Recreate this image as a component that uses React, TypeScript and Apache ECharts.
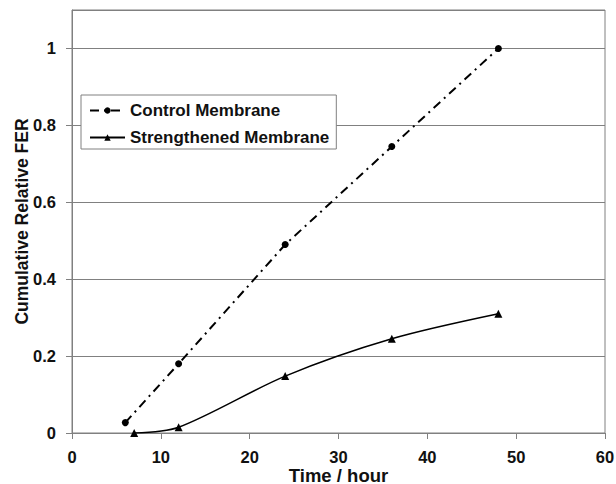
import React, { useEffect, useRef } from "react";
import * as echarts from "echarts";

const controlX = [6, 12, 24, 36, 48];
const controlY = [0.027, 0.18, 0.49, 0.745, 1.0];
const strengthX = [7, 12, 24, 36, 48];
const strengthY = [0.0, 0.015, 0.148, 0.245, 0.31];
const seriesNames = ["Control Membrane", "Strengthened Membrane"];
const xAxisTitle = "Time / hour";
const yAxisTitle = "Cumulative Relative FER";

const FONT = "'Liberation Sans', Arial, sans-serif";

export default function App() {
  const ref = useRef<HTMLDivElement>(null);
  useEffect(() => {
    if (!ref.current) return;
    const chart = echarts.init(ref.current, undefined, { renderer: "svg" });
    chart.setOption({
      animation: false,
      backgroundColor: "#fff",
      textStyle: { fontFamily: FONT },
      grid: {
        left: 72,
        right: 11,
        top: 10,
        bottom: 51,
        containLabel: false,
        outerBoundsMode: "none",
        show: true,
        borderColor: "#808080",
        borderWidth: 1,
        backgroundColor: "transparent",
      },
      legend: {
        orient: "vertical",
        left: 81,
        top: 95,
        data: seriesNames,
        backgroundColor: "#fff",
        borderColor: "#808080",
        borderWidth: 1,
        borderRadius: 0,
        padding: [7, 7, 3, 8],
        itemGap: 10,
        itemWidth: 35,
        itemHeight: 8,
        textStyle: { fontFamily: FONT, fontWeight: "bold", fontSize: 17, color: "#111" },
      },
      xAxis: {
        type: "value",
        min: 0,
        max: 60,
        interval: 10,
        name: xAxisTitle,
        nameLocation: "middle",
        nameGap: 33,
        nameMoveOverlap: false,
        nameTextStyle: {
          fontFamily: FONT,
          fontWeight: "bold",
          fontSize: 18.5,
          lineHeight: 18,
          color: "#111",
        },
        axisLine: { show: true, lineStyle: { color: "#808080", width: 1 } },
        axisTick: { show: true, inside: false, length: 6, lineStyle: { color: "#808080" } },
        axisLabel: {
          fontFamily: FONT,
          fontWeight: "bold",
          fontSize: 16.5,
          lineHeight: 16,
          color: "#111",
          margin: 16,
        },
        splitLine: { show: false },
      },
      yAxis: {
        type: "value",
        min: 0,
        max: 1.1,
        interval: 0.2,
        name: yAxisTitle,
        nameLocation: "middle",
        nameGap: 41,
        nameMoveOverlap: false,
        nameRotate: 90,
        nameTextStyle: { fontFamily: FONT, fontWeight: "bold", fontSize: 17.5, color: "#111" },
        axisLine: { show: true, lineStyle: { color: "#808080", width: 1 } },
        axisTick: { show: true, inside: false, length: 6, lineStyle: { color: "#808080" } },
        axisLabel: {
          fontFamily: FONT,
          fontWeight: "bold",
          fontSize: 16.5,
          color: "#111",
          margin: 16,
          showMaxLabel: false,
          formatter: (v: number) => (v > 1.05 ? "" : String(Math.round(v * 10) / 10)),
        },
        splitLine: { show: true, lineStyle: { color: "#808080", width: 1 } },
      },
      series: [
        {
          name: seriesNames[0],
          type: "line",
          data: controlX.map((x, i) => [x, controlY[i]]),
          symbol: "circle",
          symbolSize: 7,
          itemStyle: { color: "#000" },
          lineStyle: { color: "#000", width: 2, type: [9, 5, 2, 5] },
        },
        {
          name: seriesNames[1],
          type: "line",
          data: strengthX.map((x, i) => [x, strengthY[i]]),
          symbol: "triangle",
          symbolSize: 8,
          smooth: 0.3,
          itemStyle: { color: "#000" },
          lineStyle: { color: "#000", width: 1.5 },
        },
      ],
    });
    return () => chart.dispose();
  }, []);
  return (
    <div
      ref={ref}
      style={{ position: "absolute", left: 0, top: 0, width: 616, height: 484 }}
    />
  );
}
